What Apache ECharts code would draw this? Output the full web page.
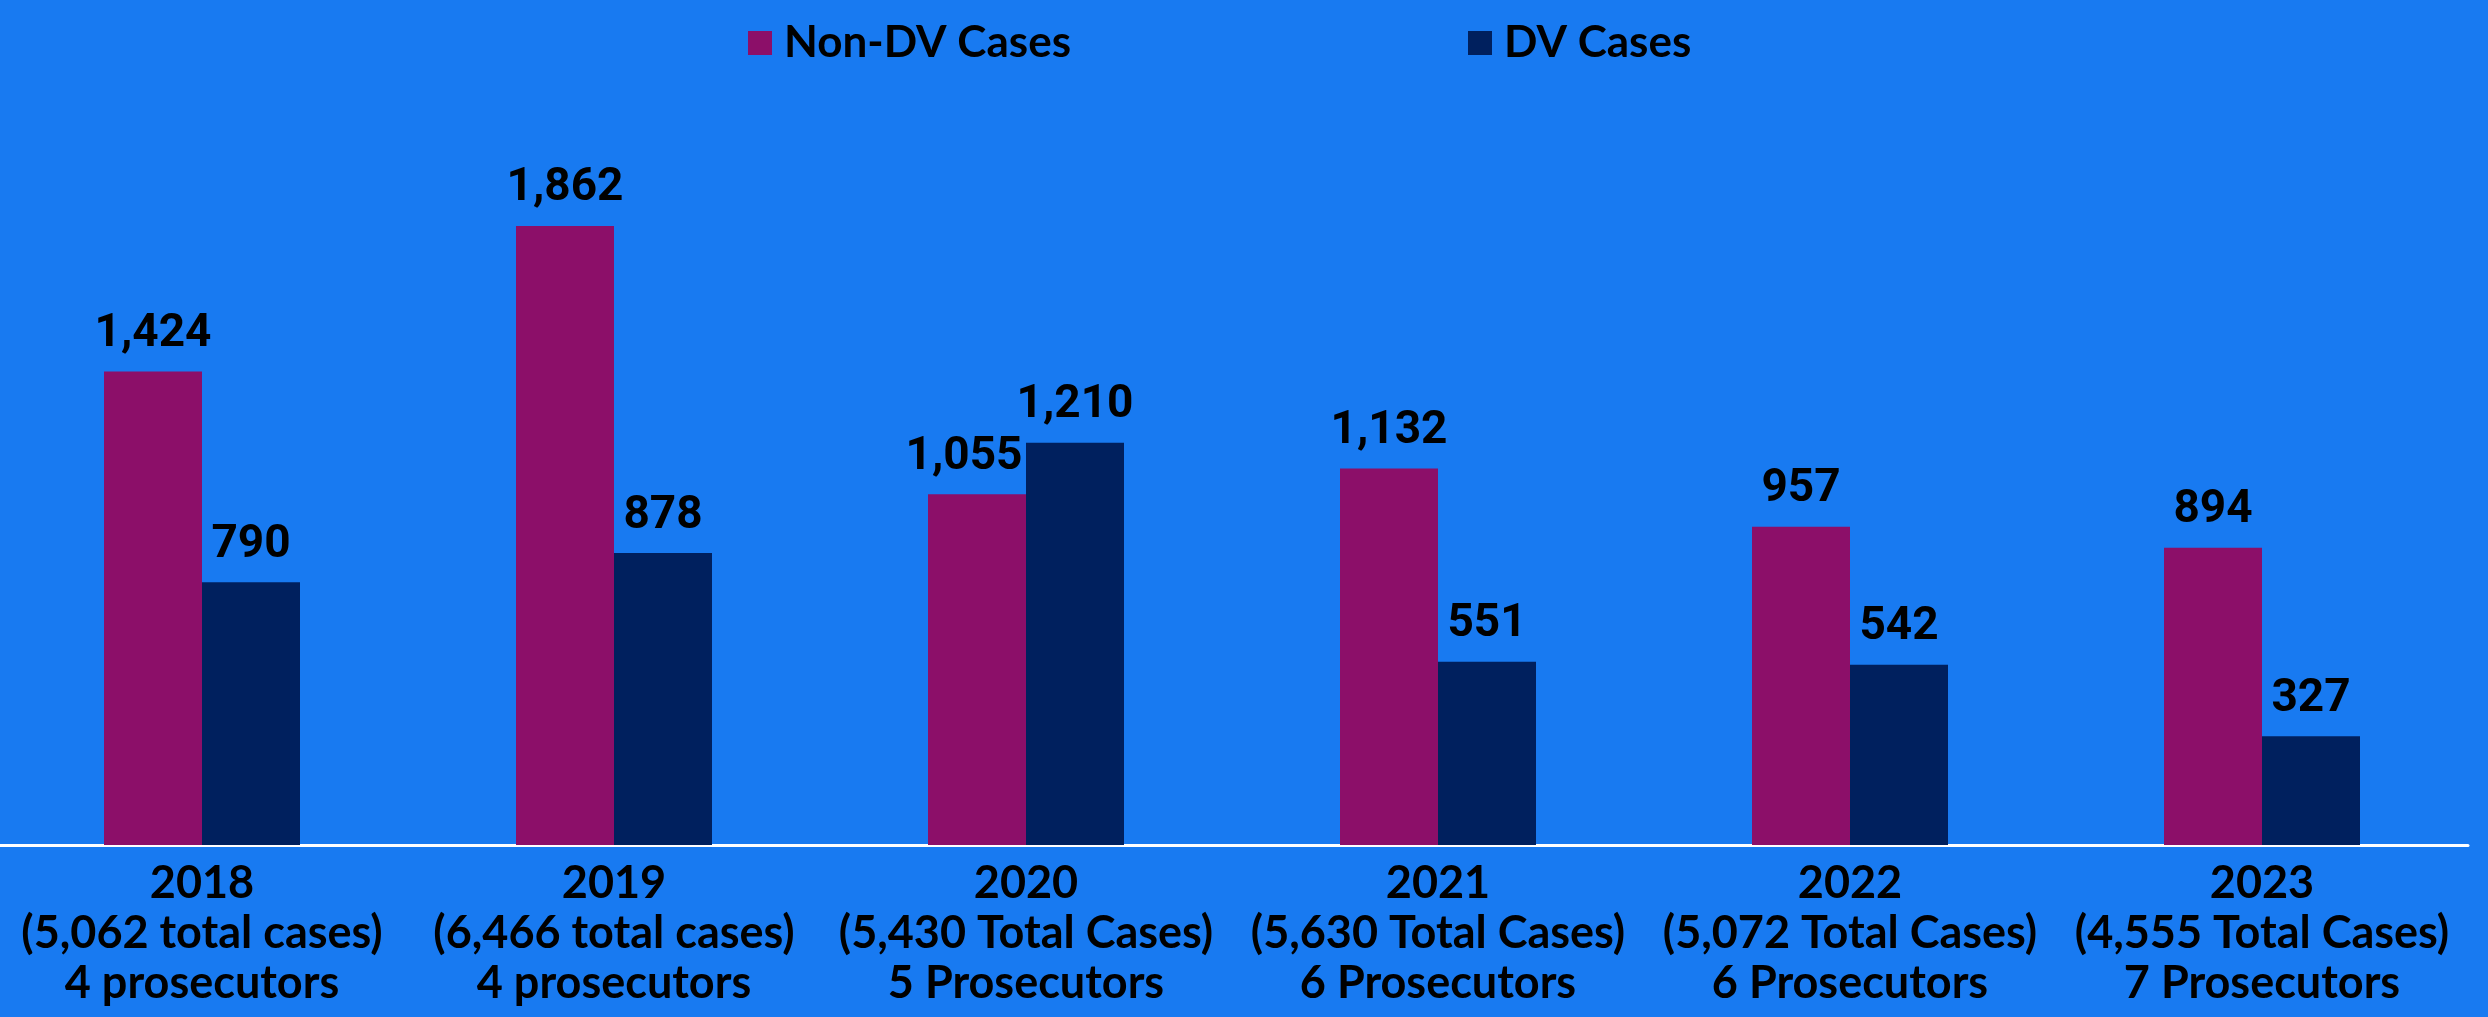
<!DOCTYPE html>
<html>
<head>
<meta charset="utf-8">
<script src="https://cdn.jsdelivr.net/npm/echarts@6/dist/echarts.min.js"></script>
<style>
  html, body { margin: 0; padding: 0; background: #187AF1; overflow: hidden; }
  /* the plot starts a few px left of the page edge in the original */
  #chart { position: absolute; left: -4px; top: 0; width: 2492px; height: 1017px; }
</style>
</head>
<body>
<div id="chart"></div>
<script>
// data
const years = ['2018', '2019', '2020', '2021', '2022', '2023'];
const totals = ['(5,062 total cases)', '(6,466 total cases)', '(5,430 Total Cases)',
  '(5,630 Total Cases)', '(5,072 Total Cases)', '(4,555 Total Cases)'];
const staff = ['4 prosecutors', '4 prosecutors', '5 Prosecutors',
  '6 Prosecutors', '6 Prosecutors', '7 Prosecutors'];
const nonDv = [1424, 1862, 1055, 1132, 957, 894];
const dv = [790, 878, 1210, 551, 542, 327];

let categories = [];
for (let i = 0; i < years.length; i++) {
  categories.push(years[i] + '\n' + totals[i] + '\n' + staff[i]);
}

let chart = echarts.init(document.getElementById('chart'));

function fmt(p) {
  return p.value.toLocaleString('en-US');
}

let labelStyle = {
  show: true,
  position: 'top',
  distance: 14,
  color: '#000',
  fontFamily: 'Roboto',
  fontWeight: 'bold',
  fontSize: 46,
  formatter: fmt
};

// the 2020 non-DV label is nudged left so it does not run into the taller DV bar
let nonDvData = nonDv.map((v, i) => {
  if (nonDv[i] < dv[i]) {
    return { value: v, label: { offset: [-13, 0] } };
  }
  return v;
});

let legendText = {
  color: '#000',
  fontFamily: 'Lato',
  fontWeight: 'bold',
  fontSize: 44,
  padding: [0, 0, 0, 7]
};

let option = {
  backgroundColor: '#187AF1',
  animation: false,
  legend: [
    {
      left: 747,
      top: 16,
      itemWidth: 24,
      itemHeight: 24,
      icon: 'rect',
      textStyle: legendText,
      data: ['Non-DV Cases']
    },
    {
      left: 1467,
      top: 16,
      itemWidth: 24,
      itemHeight: 24,
      icon: 'rect',
      textStyle: legendText,
      data: ['DV Cases']
    }
  ],
  grid: {
    left: 0,
    right: 20,
    top: 180,
    bottom: 172
  },
  xAxis: {
    type: 'category',
    data: categories,
    axisLine: { show: true, lineStyle: { color: '#fff', width: 3 } },
    axisTick: { show: false },
    axisLabel: {
      color: '#000',
      fontFamily: 'Lato',
      fontWeight: 'bold',
      fontSize: 45,
      lineHeight: 50,
      margin: 13,
      interval: 0
    }
  },
  yAxis: {
    type: 'value',
    min: 0,
    max: 2000,
    show: false,
    splitLine: { show: false }
  },
  series: [
    {
      name: 'Non-DV Cases',
      type: 'bar',
      data: nonDvData,
      barWidth: 98,
      barGap: '0%',
      itemStyle: { color: '#8C0F69' },
      label: labelStyle
    },
    {
      name: 'DV Cases',
      type: 'bar',
      data: dv,
      barWidth: 98,
      barGap: '0%',
      itemStyle: { color: '#00205E' },
      label: labelStyle
    }
  ]
};

chart.setOption(option);
</script>
</body>
</html>
